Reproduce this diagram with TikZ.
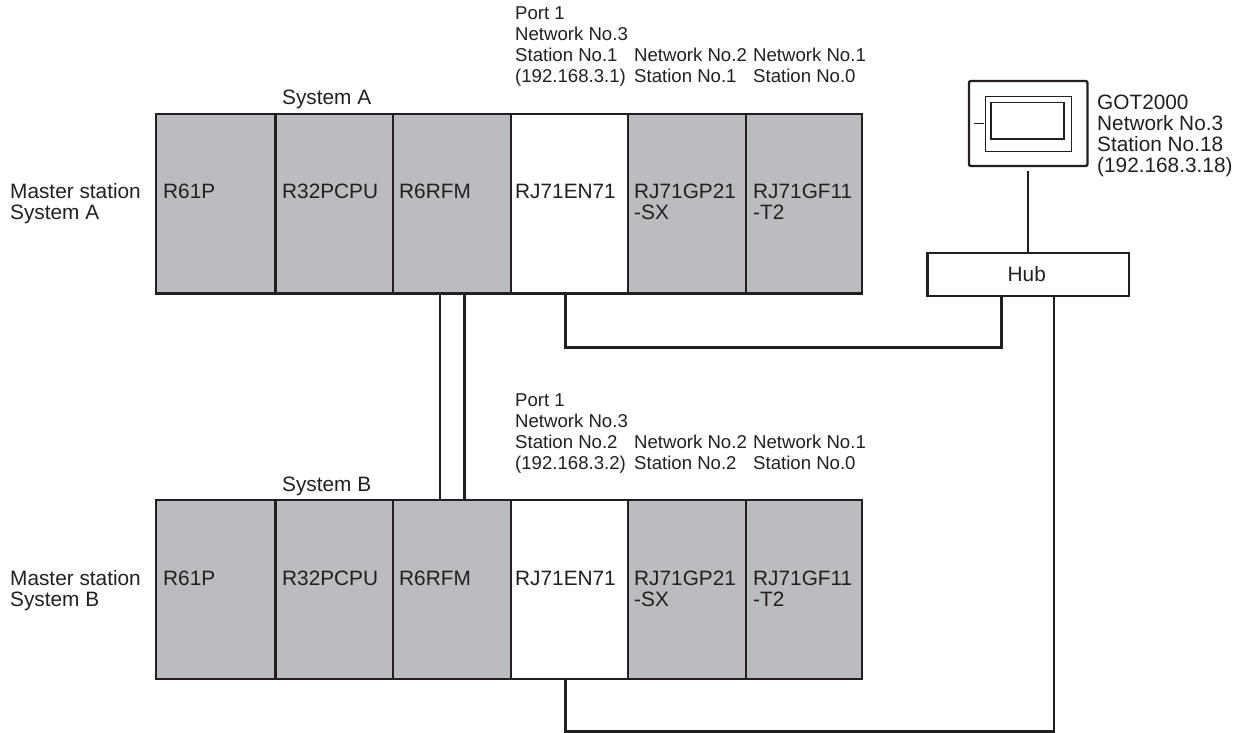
\documentclass[tikz,border=0pt]{standalone}
\usepackage{fontspec}
\setmainfont{Liberation Sans}
\definecolor{ink}{HTML}{231F20}
\definecolor{modgray}{HTML}{BBBCBF}
\tikzset{
  module/.style={draw=ink,line width=2.4bp,anchor=north west,inner sep=0pt,minimum width=#1,minimum height=179.3bp},
  graymod/.style={module=#1,fill=modgray},
  whitemod/.style={module=#1,fill=white},
  txt/.style={anchor=base west,inner sep=0pt,text=ink,align=left,font=\fontsize{20.8bp}{21bp}\selectfont},
  small/.style={txt,font=\fontsize{18.6bp}{21bp}\selectfont},
  wire/.style={draw=ink,line width=2.4bp,line join=miter},
}
\begin{document}
\begin{tikzpicture}[x=1bp,y=-1bp]
\useasboundingbox (0,0) rectangle (1239,733);
% System A modules
\node[graymod=119.5bp] (pA) at (154.8,112.8) {};
\node[graymod=117.5bp] (cA) at (274.3,112.8) {};
\node[graymod=118bp] (rA) at (391.8,112.8) {};
\node[whitemod=117.3bp] (eA) at (509.8,112.8) {};
\node[graymod=117.7bp] (gA) at (626.8,112.8) {};
\node[graymod=116.4bp] (fA) at (744.5,112.8) {};
% System B modules
\node[graymod=119.5bp] (pB) at (154.8,498.5) {};
\node[graymod=117.5bp] (cB) at (274.3,498.5) {};
\node[graymod=118bp] (rB) at (391.8,498.5) {};
\node[whitemod=117.3bp] (eB) at (509.8,498.5) {};
\node[graymod=117.7bp] (gB) at (626.8,498.5) {};
\node[graymod=116.4bp] (fB) at (744.5,498.5) {};
% Labels A
\node[txt] (lsysA) at (282,105) {System A};
\node[txt] (lmA1) at (10,199) {Master station};
\node[txt] (lmA2) at (10,220) {System A};
\node[txt] (lpA) at (163,199) {R61P};
\node[txt] (lcA) at (282,199) {R32PCPU};
\node[txt] (lrA) at (399,199) {R6RFM};
\node[txt] (leA) at (515,199) {RJ71EN71};
\node[txt] (lgA1) at (634,199) {RJ71GP21};
\node[txt] (lgA2) at (634,220) {-SX};
\node[txt] (lfA1) at (753,199) {RJ71GF11};
\node[txt] (lfA2) at (753,220) {-T2};
\node[small] (nA1) at (515,20) {Port 1};
\node[small] (nA2) at (515,41) {Network No.3};
\node[small] (nA3) at (515,62) {Station No.1};
\node[small] (nA4) at (515,83) {(192.168.3.1)};
\node[small] (nA5) at (634,62) {Network No.2};
\node[small] (nA6) at (634,83) {Station No.1};
\node[small] (nA7) at (753,62) {Network No.1};
\node[small] (nA8) at (753,83) {Station No.0};
% Labels B
\node[txt] (lsysB) at (282,491) {System B};
\node[txt] (lmB1) at (10,585) {Master station};
\node[txt] (lmB2) at (10,606) {System B};
\node[txt] (lpB) at (163,585) {R61P};
\node[txt] (lcB) at (282,585) {R32PCPU};
\node[txt] (lrB) at (399,585) {R6RFM};
\node[txt] (leB) at (515,585) {RJ71EN71};
\node[txt] (lgB1) at (634,585) {RJ71GP21};
\node[txt] (lgB2) at (634,606) {-SX};
\node[txt] (lfB1) at (753,585) {RJ71GF11};
\node[txt] (lfB2) at (753,606) {-T2};
\node[small] (nB1) at (515,406) {Port 1};
\node[small] (nB2) at (515,427) {Network No.3};
\node[small] (nB3) at (515,448) {Station No.2};
\node[small] (nB4) at (515,469) {(192.168.3.2)};
\node[small] (nB5) at (634,448) {Network No.2};
\node[small] (nB6) at (634,469) {Station No.2};
\node[small] (nB7) at (753,448) {Network No.1};
\node[small] (nB8) at (753,469) {Station No.0};
% Hub
\node[draw=ink,line width=2.4bp,fill=white,inner sep=0pt,minimum width=201.3bp,minimum height=43.3bp,text=ink,font=\fontsize{20.8bp}{21bp}\selectfont] (hub) at (1028.3,274.5) {Hub\kern3bp};
% GOT
\node[draw=ink,line width=2.4bp,rounded corners=2bp,minimum width=118.5bp,minimum height=85bp,inner sep=0pt] (got) at (1028.2,123.5) {};
\node[draw=ink,line width=0.9bp,minimum width=86bp,minimum height=55bp,inner sep=0pt] (gotin) at (1028,123.5) {};
\node[draw=ink,line width=1.5bp,minimum width=73bp,minimum height=36.3bp,inner sep=0pt] (gotscr) at (1027.5,120.9) {};
\coordinate (d1) at (974,123.5);
\coordinate (d2) at (984,123.5);
\draw[draw=ink,line width=0.9bp] (d1) -- (d2);
\node[txt] (g1) at (1097,110) {GOT2000};
\node[txt] (g2) at (1097,131) {Network No.3};
\node[txt] (g3) at (1097,152) {Station No.18};
\node[txt] (g4) at (1097,173) {(192.168.3.18)};
% Connectors
\coordinate (x1) at (440,0);
\coordinate (x2) at (464.5,0);
\coordinate (x3) at (565.5,0);
\coordinate (x4) at (1001.5,0);
\coordinate (x5) at (1053.7,0);
\coordinate (y1) at (0,347.5);
\coordinate (y2) at (0,731.5);
\coordinate (gotstub) at (1028,171);
\draw[wire] (rA.south -| x1) -- (rB.north -| x1);
\draw[wire] (rA.south -| x2) -- (rB.north -| x2);
\draw[wire] (eA.south -| x3) -- (x3 |- y1) -- (x4 |- y1) -- (hub.south -| x4);
\draw[wire] (eB.south -| x3) -- (x3 |- y2) -- (x5 |- y2) -- (hub.south -| x5);
\draw[wire] (gotstub) -- (hub.north -| gotstub);
\end{tikzpicture}
\end{document}
